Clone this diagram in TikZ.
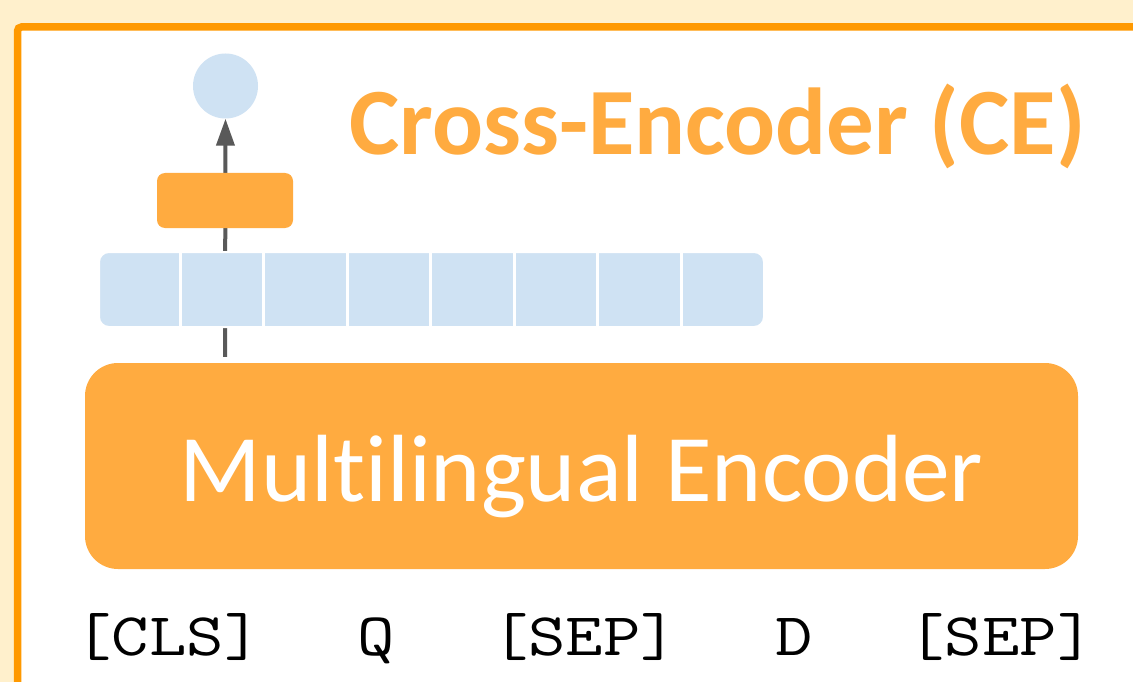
\documentclass[tikz,border=0pt]{standalone}
\usepackage{fontspec}
\setsansfont{Carlito}[Ligatures={NoCommon}]
\usepackage{graphicx}
\usetikzlibrary{arrows.meta}
\pgfdeclarelayer{back}
\pgfdeclarelayer{mid}
\pgfsetlayers{back,mid,main}
\definecolor{cream}{HTML}{FFF0CC}
\definecolor{frameor}{HTML}{FF9900}
\definecolor{boxor}{HTML}{FFAB40}
\definecolor{lblue}{HTML}{CFE2F3}
\definecolor{arrgray}{HTML}{595959}
\tikzset{
  outcirc/.style={circle, fill=lblue, minimum size=65pt, inner sep=0pt},
  headbox/.style={fill=boxor, rounded corners=8pt, minimum width=136pt, minimum height=55pt, inner sep=0pt},
  tokbar/.style={fill=lblue, draw=white, line width=2pt, rounded corners=10pt, minimum width=665pt, minimum height=75pt, inner sep=0pt},
  encbox/.style={fill=boxor, rounded corners=33pt, minimum width=993pt, minimum height=206pt, inner sep=0pt},
  enclabel/.style={text=white, font=\sffamily\fontsize{95.5}{100}\selectfont, inner sep=0pt, anchor=base},
  titlelabel/.style={text=boxor, font=\sffamily\bfseries\fontsize{95}{100}\selectfont, inner sep=0pt, anchor=base},
  tok/.style={text=black, font=\ttfamily\fontsize{60.5}{64}\selectfont, inner sep=0pt, anchor=base},
  arr/.style={draw=arrgray, line width=4pt, -{Triangle[length=27pt,width=18pt]}},
  divider/.style={white, line width=3pt}
}
\newcommand{\tokstretch}[1]{\scalebox{1.2}[1]{#1}}
\begin{document}
\begin{tikzpicture}[x=1pt,y=-1pt]
\useasboundingbox (0,0) rectangle (1133,682);
\begin{pgfonlayer}{back}
  \clip (0,0) rectangle (1133,682);
  \fill[cream] (0,0) rectangle (1133,682);
  \draw[frameor, line width=7.5pt, fill=white, rounded corners=4pt] (17.5,27) rectangle (1200,760);
\end{pgfonlayer}

\node[outcirc] (out) at (225.5,86) {};
\node[headbox] (head) at (225,200.5) {};
\node[tokbar] (bar) at (431.5,289.5) {};
\foreach \x in {180,263.5,347,430.5,514,597.5,681}
  \draw[divider] (\x,253) -- (\x,326);
\node[encbox] (enc) at (581.5,466) {};
\node[enclabel] (enctext) at (581.5,501) {Multilingual Encoder};
\node[titlelabel] (title) at (717.5,155) {Cross-Encoder (CE)};

\node[tok] (cls) at (168,655) {\tokstretch{[CLS]}};
\node[tok] (q) at (376,655) {\tokstretch{Q}};
\node[tok] (sep1) at (584.5,655) {\tokstretch{[SEP]}};
\node[tok] (d) at (794,655) {\tokstretch{D}};
\node[tok] (sep2) at (1001,655) {\tokstretch{[SEP]}};

\begin{pgfonlayer}{mid}
  \draw[arr] ([yshift=6pt]enc.north -| head.center) -- (out.south);
\end{pgfonlayer}
\end{tikzpicture}
\end{document}
